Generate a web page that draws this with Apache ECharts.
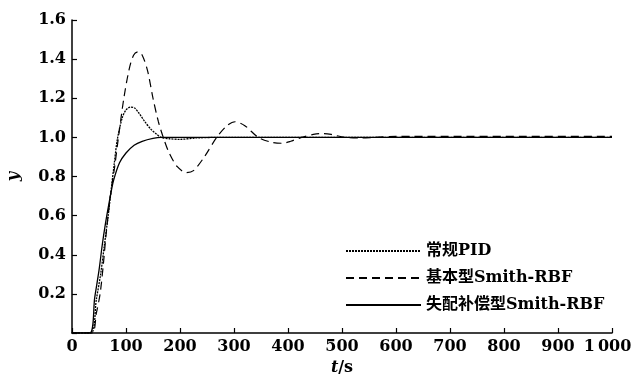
<!DOCTYPE html>
<html>
<head>
<meta charset="utf-8">
<script src="https://cdn.jsdelivr.net/npm/echarts@6/dist/echarts.min.js"></script>
<style>html,body{margin:0;padding:0;background:#fff}#c{width:632px;height:377px}</style>
</head>
<body>
<div id="c"></div>
<script>
// Legend names
const seriesNames = ['常规PID', '基本型Smith-RBF', '失配补偿型Smith-RBF'];
// Axis ticks
const xTicks = [0, 100, 200, 300, 400, 500, 600, 700, 800, 900, 1000];
const xTickLabels = ['0', '100', '200', '300', '400', '500', '600', '700', '800', '900', '1\u2009000'];
const yTickLabels = ['', '0.2', '0.4', '0.6', '0.8', '1.0', '1.2', '1.4', '1.6'];

// 常规PID (dotted)
const pidT = [0, 35, 45, 53, 60, 67, 72, 78, 84, 93, 100, 108, 116, 125, 135, 145, 155, 165, 180, 200, 230, 270, 1000];
const pidY = [0, 0, 0.17, 0.3, 0.45, 0.6, 0.72, 0.86, 0.99, 1.10, 1.14, 1.155, 1.15, 1.12, 1.08, 1.045, 1.02, 1.0, 0.993, 0.99, 0.997, 1.0, 1.0];

// 基本型Smith-RBF (dashed)
const basicT = [0, 37, 45, 52, 58, 63, 71, 79, 86, 96, 106, 114, 122, 130, 140, 150, 160, 169, 180, 195, 212, 225, 245, 268, 287, 302, 320, 345, 370, 389, 405, 425, 447, 463, 480, 505, 535, 560, 600, 1000];
const basicY = [0, 0, 0.1, 0.2, 0.35, 0.5, 0.7, 0.85, 1.0, 1.2, 1.35, 1.42, 1.437, 1.42, 1.34, 1.2, 1.08, 1.0, 0.92, 0.85, 0.82, 0.83, 0.9, 1.0, 1.06, 1.08, 1.06, 1.0, 0.975, 0.97, 0.98, 1.0, 1.015, 1.02, 1.015, 1.0, 0.997, 1.0, 1.005, 1.005];

// 失配补偿型Smith-RBF (solid)
const compT = [0, 33, 42, 50, 56, 62, 67, 71, 77, 88, 100, 115, 130, 150, 165, 200, 1000];
const compY = [0, 0, 0.18, 0.32, 0.45, 0.56, 0.64, 0.7, 0.78, 0.87, 0.92, 0.96, 0.98, 0.995, 1.0, 1.0, 1.0];

function pairs(t, y) { return t.map((v, i) => [v, y[i]]); }

const font = '"DejaVu Serif", "Liberation Serif", "Noto Sans CJK SC", serif';
const chart = echarts.init(document.getElementById('c'), null, {renderer: 'canvas'});
chart.setOption({
  animation: false,
  backgroundColor: '#fff',
  grid: {left: 72, right: 20, top: 20, bottom: 44, containLabel: false, outerBoundsMode: 'none'},
  legend: {
    orient: 'vertical',
    left: 340, top: 236,
    itemWidth: 75, itemHeight: 14, itemGap: 7,
    itemStyle: {opacity: 0},
    textStyle: {color: '#000', fontFamily: font, fontWeight: 'bold', fontSize: 16, lineHeight: 20},
    data: seriesNames
  },
  xAxis: {
    type: 'value', min: 0, max: 1000, interval: 100,
    name: '{i|t}/s', nameLocation: 'middle', nameGap: 27,
    nameTextStyle: {color: '#000', fontFamily: font, fontWeight: 'bold', fontSize: 16,
      rich: {i: {fontStyle: 'italic', fontFamily: font, fontWeight: 'bold', fontSize: 16, color: '#000'}}},
    axisLine: {lineStyle: {color: '#000', width: 1.5}},
    axisTick: {inside: true, length: 5, lineStyle: {color: '#000', width: 1.2}},
    axisLabel: {color: '#000', fontFamily: font, fontWeight: 'bold', fontSize: 16, margin: 6,
      formatter: v => v === 1000 ? '{r|' + xTickLabels[10] + '}' : xTickLabels[xTicks.indexOf(v)],
      rich: {r: {fontFamily: font, fontWeight: 'bold', fontSize: 16, color: '#000', padding: [0, 9, 0, 0]}}},
    splitLine: {show: false}
  },
  yAxis: {
    type: 'value', min: 0, max: 1.6, interval: 0.2,
    name: 'y', nameLocation: 'middle', nameGap: 50, nameRotate: 90,
    nameTextStyle: {color: '#000', fontFamily: font, fontStyle: 'italic', fontWeight: 'bold', fontSize: 16},
    axisLine: {lineStyle: {color: '#000', width: 1.5}},
    axisTick: {inside: true, length: 5, lineStyle: {color: '#000', width: 1.2}},
    axisLabel: {color: '#000', fontFamily: font, fontWeight: 'bold', fontSize: 16, margin: 6,
      formatter: v => yTickLabels[Math.round(v / 0.2)]},
    splitLine: {show: false}
  },
  series: [
    {name: seriesNames[0], type: 'line', data: pairs(pidT, pidY), symbol: 'none', smooth: 0.3,
      itemStyle: {color: '#000'},
      lineStyle: {color: '#000', width: 1.3, type: [2, 1]}},
    {name: seriesNames[1], type: 'line', data: pairs(basicT, basicY), symbol: 'none', smooth: 0.3,
      itemStyle: {color: '#000'},
      lineStyle: {color: '#000', width: 1.2, type: [8, 5]}},
    {name: seriesNames[2], type: 'line', data: pairs(compT, compY), symbol: 'none', smooth: 0.3,
      itemStyle: {color: '#000'},
      lineStyle: {color: '#000', width: 1.3, type: 'solid'}}
  ]
});
</script>
</body>
</html>
